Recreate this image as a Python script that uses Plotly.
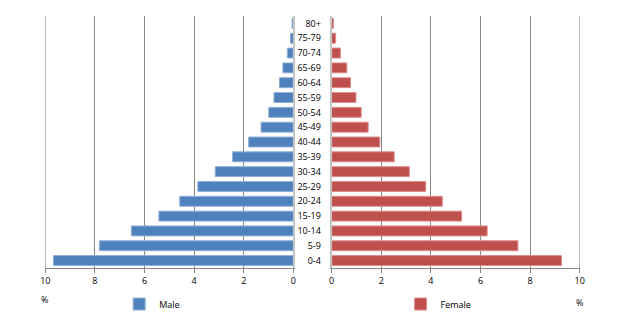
import plotly.graph_objects as go

ages = ["0-4", "5-9", "10-14", "15-19", "20-24", "25-29", "30-34", "35-39", "40-44",
        "45-49", "50-54", "55-59", "60-64", "65-69", "70-74", "75-79", "80+"]
male = [9.67, 7.82, 6.53, 5.42, 4.58, 3.85, 3.15, 2.45, 1.80,
        1.30, 0.99, 0.78, 0.56, 0.42, 0.24, 0.11, 0.05]
female = [9.27, 7.51, 6.27, 5.24, 4.46, 3.79, 3.13, 2.52, 1.94,
          1.47, 1.19, 0.98, 0.76, 0.61, 0.35, 0.16, 0.07]
x_ticks = [0, 2, 4, 6, 8, 10]

W, H = 625, 328
FONT = "Open Sans"
GRID = "#878787"

fig = go.Figure()
fig.add_trace(go.Bar(y=ages, x=male, orientation="h", name="Male",
                     marker=dict(color="#4f81bd", line=dict(color="#8eb0d8", width=1)),
                     xaxis="x", yaxis="y", legend="legend", showlegend=True))
fig.add_trace(go.Bar(y=ages, x=female, orientation="h", name="Female",
                     marker=dict(color="#c0504d", line=dict(color="#dc8e8c", width=1)),
                     xaxis="x2", yaxis="y2", legend="legend2", showlegend=True))

xcommon = dict(tickvals=x_ticks, ticktext=[str(v) for v in x_ticks],
               showgrid=True, gridcolor=GRID, gridwidth=1,
               showline=True, linecolor=GRID, linewidth=1,
               ticks="outside", ticklen=4, tickcolor=GRID,
               zeroline=False, tickfont=dict(family=FONT, size=9, color="#000"),
               fixedrange=True)

xmax = max(x_ticks)
fig.update_layout(
    width=W, height=H,
    showlegend=True,
    margin=dict(l=0, r=0, t=16, b=60),
    paper_bgcolor="white", plot_bgcolor="white",
    bargap=0.33,
    font=dict(family=FONT, size=9, color="#000"),
    xaxis=dict(domain=[41 / W, 293 / W], range=[xmax, 0], anchor="y", **xcommon),
    xaxis2=dict(domain=[332 / W, 584 / W], range=[0, xmax], anchor="y2", **xcommon),
    yaxis=dict(anchor="x", side="right", showline=True, linecolor="#c4c4c4", linewidth=2,
               showticklabels=False, ticks="", showgrid=False, range=[-0.5, 16.5],
               fixedrange=True),
    yaxis2=dict(anchor="x2", side="left", showline=True, linecolor="#c4c4c4", linewidth=2,
                showticklabels=True, ticks="", ticklabelstandoff=7, showgrid=False,
                range=[-0.5, 16.5], tickfont=dict(family=FONT, size=9, color="#000"),
                fixedrange=True),
    legend=dict(x=116 / W, y=-0.143, xanchor="left", yanchor="middle",
                font=dict(family=FONT, size=9, color="#000"), bgcolor="rgba(0,0,0,0)"),
    legend2=dict(x=402 / W, y=-0.143, xanchor="left", yanchor="middle",
                 font=dict(family=FONT, size=9, color="#000"), bgcolor="rgba(0,0,0,0)"),
    shapes=[
        dict(type="line", xref="x", yref="paper", x0=xmax, x1=xmax, y0=0, y1=1,
             line=dict(color=GRID, width=1), layer="below"),
        dict(type="line", xref="x2", yref="paper", x0=xmax, x1=xmax, y0=0, y1=1,
             line=dict(color=GRID, width=1), layer="below"),
    ],
    annotations=[
        dict(text="%", x=40 / W, y=(268 - 299) / 252, xref="paper", yref="paper",
             showarrow=False, xanchor="center", yanchor="middle",
             font=dict(family=FONT, size=9, color="#000")),
        dict(text="%", x=584 / W, y=(268 - 302) / 252, xref="paper", yref="paper",
             showarrow=False, xanchor="center", yanchor="middle",
             font=dict(family=FONT, size=9, color="#000")),
    ],
)

fig.write_html("out.html")
